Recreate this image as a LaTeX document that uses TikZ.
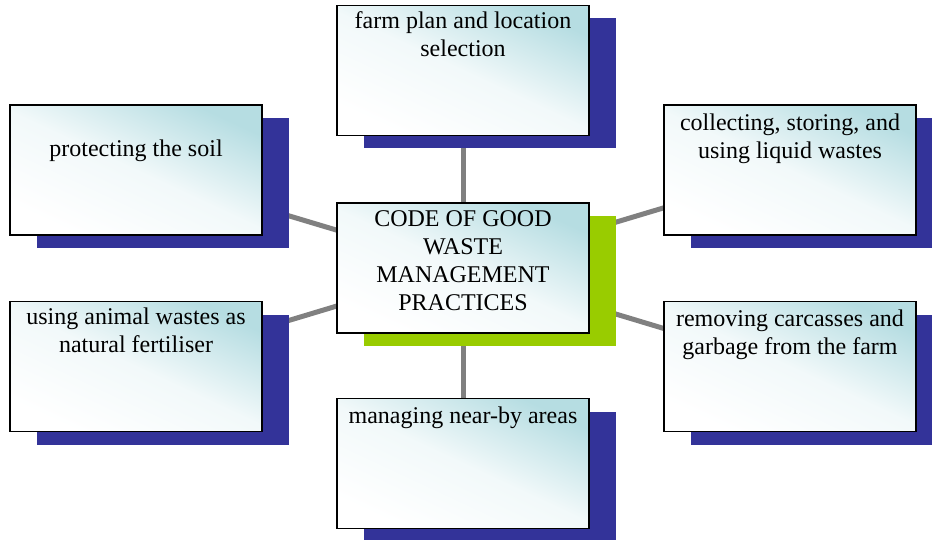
\documentclass[tikz,border=0pt]{standalone}
\usepackage{fontspec}
\setmainfont{Liberation Serif}
\usetikzlibrary{positioning,shadows,backgrounds}

\definecolor{shadowblue}{RGB}{51,51,153}
\definecolor{shadowgreen}{RGB}{153,204,0}
\definecolor{boxteal}{RGB}{182,221,226}
\definecolor{linkgray}{RGB}{128,128,128}

\begin{document}
\begin{tikzpicture}[x=1pt, y=-1pt,
    basebox/.style={rectangle, draw=black, line width=1.5pt, minimum width=252pt, minimum height=130pt, inner sep=0pt, top color=boxteal, bottom color=white, middle color=white!82!boxteal, shading angle=-25},
    practicebox/.style={basebox, general shadow={fill=shadowblue, shadow xshift=27pt, shadow yshift=-13pt}},
    codebox/.style={basebox, general shadow={fill=shadowgreen, shadow xshift=27pt, shadow yshift=-13pt}},
    practicetext/.style={anchor=north, align=center, inner sep=0pt, font=\fontsize{24}{28}\selectfont},
    link/.style={draw=linkgray, line width=5pt}]
    \useasboundingbox (0,0) rectangle (932,540);
    % boxes
    \node[codebox]       (code)    at (463,268)             {};
    \node[practicebox]   (plan)    [above=66pt of code]     {};
    \node[practicebox]   (areas)   [below=64pt of code]     {};
    \node[practicebox]   (soil)    at (136,170)             {};
    \node[practicebox]   (fert)    [below=65pt of soil]     {};
    \node[practicebox]   (liquid)  at (790,170)             {};
    \node[practicebox]   (carcass) [below=65pt of liquid]   {};
    % texts
    \node[practicetext] at ([yshift=-8pt]code.north)    {CODE OF GOOD\\WASTE\\MANAGEMENT\\PRACTICES};
    \node[practicetext] at ([yshift=-7pt]plan.north)    {farm plan and location\\selection};
    \node[practicetext] at ([yshift=-35pt]soil.north)   {protecting the soil};
    \node[practicetext] at ([yshift=-9pt]liquid.north)  {collecting, storing, and\\using liquid wastes};
    \node[practicetext] at ([yshift=-7pt]fert.north)    {using animal wastes as\\natural fertiliser};
    \node[practicetext] at ([yshift=-9pt]carcass.north) {removing carcasses and\\garbage from the farm};
    \node[practicetext] at ([yshift=-9pt]areas.north)   {managing near-by areas};
    % lines
    \begin{scope}[on background layer]
        \foreach \outer in {plan,soil,liquid,fert,carcass,areas}
            \draw[link] (code.center) -- (\outer.center);
    \end{scope}
\end{tikzpicture}
\end{document}
